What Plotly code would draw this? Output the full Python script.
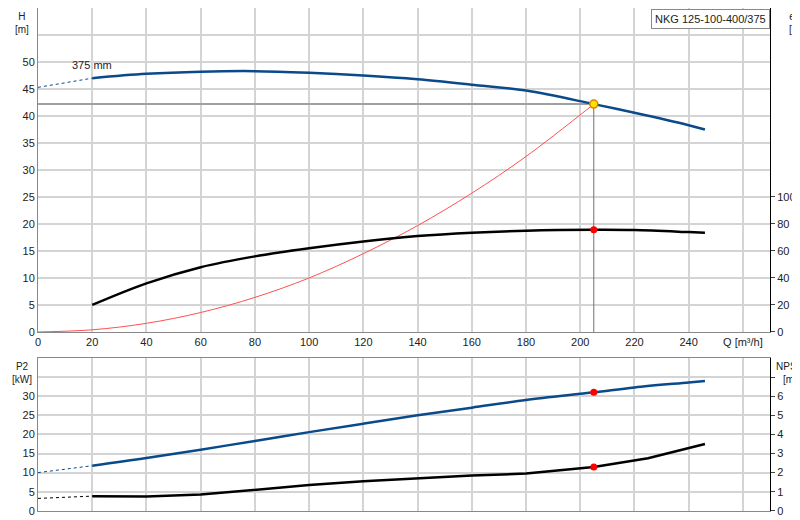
import plotly.graph_objects as go

# ---- data ----
q_h = [20, 40, 60, 80, 100, 120, 140, 160, 180, 205, 220, 240, 246]
h_vals = [47.0, 47.8, 48.2, 48.3, 48.0, 47.5, 46.8, 45.8, 44.7, 42.2, 40.6, 38.3, 37.5]
q_h_ext = [0, 20]
h_ext = [45.3, 47.0]
q_eta = [20, 40, 60, 80, 100, 120, 140, 160, 180, 205, 220, 240, 246]
eta_vals = [20, 36, 48, 56, 62, 67, 71, 73.5, 75, 75.7, 75.5, 74, 73.5]
q_sys = [0, 20, 40, 60, 80, 100, 120, 140, 160, 180, 205]
h_sys = [0, 0.4, 1.6, 3.6, 6.4, 10, 14.5, 19.7, 25.7, 32.5, 42.2]
q_p2 = [20, 40, 60, 80, 100, 120, 140, 160, 180, 205, 220, 240, 246]
p2_vals = [11.8, 13.8, 16.0, 18.3, 20.6, 22.8, 25.0, 27.0, 29.0, 31.0, 32.3, 33.6, 34.0]
q_p2_ext = [0, 20]
p2_ext = [10.0, 11.8]
q_npsh = [20, 40, 60, 80, 100, 120, 140, 160, 180, 200, 205, 225, 246]
npsh_vals = [0.77, 0.75, 0.85, 1.1, 1.35, 1.55, 1.7, 1.85, 1.95, 2.2, 2.3, 2.75, 3.5]
q_npsh_ext = [0, 20]
npsh_ext = [0.65, 0.77]
q_op, h_op, eta_op, p2_op, npsh_op = 205, 42.2, 75.7, 31.0, 2.3
x_ticks = list(range(0, 261, 20))
x_labels = [str(v) for v in range(0, 241, 20)] + ["Q [m³/h]"]

blue = "#0a4a8a"
grid = "#d4d4d4"
fig = go.Figure()

# top panel
fig.add_trace(go.Scatter(x=[0, q_op], y=[h_op, h_op], mode="lines", line=dict(color="#a0a0a0", width=2), xaxis="x", yaxis="y"))
fig.add_trace(go.Scatter(x=[q_op, q_op], y=[0, h_op], mode="lines", line=dict(color="#707070", width=1), xaxis="x", yaxis="y"))
fig.add_trace(go.Scatter(x=q_sys, y=h_sys, mode="lines", line=dict(color="#ff5050", width=1, shape="spline"), xaxis="x", yaxis="y"))
fig.add_trace(go.Scatter(x=q_h_ext, y=h_ext, mode="lines", line=dict(color=blue, width=1, dash="dot"), xaxis="x", yaxis="y"))
fig.add_trace(go.Scatter(x=q_h, y=h_vals, mode="lines", line=dict(color=blue, width=2.5, shape="spline"), xaxis="x", yaxis="y"))
fig.add_trace(go.Scatter(x=q_eta, y=eta_vals, mode="lines", line=dict(color="black", width=2.5, shape="spline"), xaxis="x", yaxis="y2"))
fig.add_trace(go.Scatter(x=[q_op], y=[eta_op], mode="markers", marker=dict(color="red", size=7), xaxis="x", yaxis="y2"))
fig.add_trace(go.Scatter(x=[q_op], y=[h_op], mode="markers", marker=dict(color="#ffe000", size=8, line=dict(color="#e08000", width=1.5)), xaxis="x", yaxis="y"))

# bottom panel
fig.add_trace(go.Scatter(x=q_p2_ext, y=p2_ext, mode="lines", line=dict(color=blue, width=1, dash="dot"), xaxis="x2", yaxis="y3"))
fig.add_trace(go.Scatter(x=q_p2, y=p2_vals, mode="lines", line=dict(color=blue, width=2.5, shape="spline"), xaxis="x2", yaxis="y3"))
fig.add_trace(go.Scatter(x=[q_op], y=[p2_op], mode="markers", marker=dict(color="red", size=7), xaxis="x2", yaxis="y3"))
fig.add_trace(go.Scatter(x=q_npsh_ext, y=npsh_ext, mode="lines", line=dict(color="black", width=1, dash="dot"), xaxis="x2", yaxis="y4"))
fig.add_trace(go.Scatter(x=q_npsh, y=npsh_vals, mode="lines", line=dict(color="black", width=2.5), xaxis="x2", yaxis="y4"))
fig.add_trace(go.Scatter(x=[q_op], y=[npsh_op], mode="markers", marker=dict(color="red", size=7), xaxis="x2", yaxis="y4"))

xd = [0.0375, 0.9525]
tf = dict(family="Arial, Liberation Sans", size=11, color="#222")
axx = dict(range=[0, 270], tickvals=x_ticks, showgrid=True, gridcolor=grid, gridwidth=1.5, automargin=False,
           showline=True, linecolor="#888", mirror=True, zeroline=False, tickfont=tf, ticks="")
fig.update_layout(
    width=800, height=520, margin=dict(l=0, r=0, t=0, b=0, autoexpand=False),
    paper_bgcolor="white", plot_bgcolor="white", showlegend=False,
    xaxis=dict(axx, domain=xd, anchor="y", ticktext=x_labels),
    xaxis2=dict(axx, domain=xd, anchor="y3", showticklabels=False),
    yaxis=dict(domain=[0.377, 1.0], range=[0, 60], tickvals=list(range(0, 56, 5)), automargin=False,
               ticktext=[str(v) for v in range(0, 51, 5)] + [""], showgrid=True, gridcolor=grid, gridwidth=1.5,
               showline=True, linecolor="#888", zeroline=False, tickfont=tf),
    yaxis2=dict(overlaying="y", side="right", range=[0, 240], tickvals=list(range(0, 101, 20)), automargin=False,
                showgrid=False, showline=True, linecolor="black", ticks="outside", ticklen=4, tickfont=tf, zeroline=False),
    yaxis3=dict(domain=[0.033, 0.327], range=[0, 40], tickvals=list(range(0, 36, 5)), automargin=False,
                ticktext=[str(v) for v in range(0, 31, 5)] + [""], showgrid=True, gridcolor=grid, gridwidth=1.5,
                showline=True, linecolor="#888", zeroline=False, tickfont=tf, anchor="x2"),
    yaxis4=dict(overlaying="y3", side="right", range=[0, 8], tickvals=list(range(0, 8)), automargin=False,
                ticktext=[str(v) for v in range(0, 7)] + [""], showgrid=False, showline=True, linecolor="black",
                ticks="outside", ticklen=4, tickfont=tf, anchor="x2", zeroline=False),
)
ann = [
    dict(x=0.018, y=0.998, text="H<br>[m]", xa="center"),
    dict(x=0.998, y=0.998, text="eta<br>[%]", xa="right"),
    dict(x=0.018, y=0.325, text="P2<br>[kW]", xa="center"),
    dict(x=0.998, y=0.325, text="NPSH<br>[m]", xa="right"),
]
for a in ann:
    fig.add_annotation(xref="paper", yref="paper", x=a["x"], y=a["y"], text=a["text"], showarrow=False,
                       xanchor=a["xa"], yanchor="top", align="center",
                       font=dict(family="Arial, Liberation Sans", size=10, color="#222"))
fig.add_annotation(x=20, y=49.5, xref="x", yref="y", text="375 mm", showarrow=False,
                   font=dict(family="Arial, Liberation Sans", size=11, color="#222"))
fig.add_annotation(xref="paper", yref="paper", x=0.9525, y=0.998, xanchor="right", yanchor="top",
                   text="NKG 125-100-400/375", showarrow=False, bordercolor="#888", borderwidth=1,
                   bgcolor="white", borderpad=3, font=dict(family="Arial, Liberation Sans", size=11, color="#222"))
fig.write_html("out.html")
